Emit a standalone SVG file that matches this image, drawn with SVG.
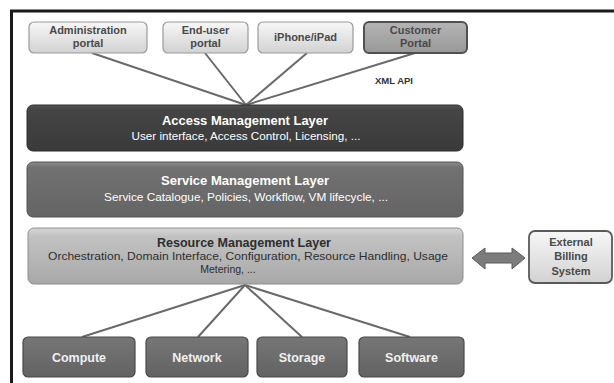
<svg xmlns="http://www.w3.org/2000/svg" width="614" height="383" viewBox="0 0 614 383">
<defs>
<linearGradient id="gLight" x1="0" y1="0" x2="0" y2="1"><stop offset="0" stop-color="#f7f7f7"/><stop offset="1" stop-color="#d2d2d2"/></linearGradient>
<linearGradient id="gCust" x1="0" y1="0" x2="0" y2="1"><stop offset="0" stop-color="#b4b4b4"/><stop offset="1" stop-color="#989898"/></linearGradient>
<linearGradient id="gAccess" x1="0" y1="0" x2="0" y2="1"><stop offset="0" stop-color="#555"/><stop offset="0.1" stop-color="#454545"/><stop offset="1" stop-color="#3a3a3a"/></linearGradient>
<linearGradient id="gService" x1="0" y1="0" x2="0" y2="1"><stop offset="0" stop-color="#8a8a8a"/><stop offset="0.1" stop-color="#727272"/><stop offset="1" stop-color="#646464"/></linearGradient>
<linearGradient id="gRes" x1="0" y1="0" x2="0" y2="1"><stop offset="0" stop-color="#d6d6d6"/><stop offset="0.15" stop-color="#c2c2c2"/><stop offset="1" stop-color="#a8a8a8"/></linearGradient>
<linearGradient id="gBot" x1="0" y1="0" x2="0" y2="1"><stop offset="0" stop-color="#767676"/><stop offset="1" stop-color="#626262"/></linearGradient>
</defs>
<style>
text{font-family:"Liberation Sans",Arial,sans-serif;text-anchor:middle}
.top{fill:url(#gLight);stroke:#9a9a9a;stroke-width:1.2}
.tt{font-size:11px;font-weight:bold;fill:#4a4a4a}
.conn line{stroke:#6a6a6a;stroke-width:2}
.layer-t{font-size:12.5px;font-weight:bold}
.layer-s{font-size:10.5px}
.bot{fill:url(#gBot);stroke:#4a4a4a;stroke-width:1.2}
.bt{font-size:12.5px;font-weight:bold;fill:#f0f0f0}
</style>
<rect x="0" y="0" width="614" height="383" fill="#ffffff"/>
<!-- frame -->
<path d="M11.5 383 V11 H614" fill="none" stroke="#1a1a1a" stroke-width="3"/>

<g id="connectors" class="conn">
<line x1="92" y1="53" x2="246" y2="105"/>
<line x1="205" y1="53" x2="246" y2="105"/>
<line x1="307" y1="53" x2="246" y2="105"/>
<line x1="415" y1="53" x2="246" y2="105"/>
<line x1="245" y1="285" x2="82" y2="337"/>
<line x1="245" y1="285" x2="198" y2="337"/>
<line x1="245" y1="285" x2="302" y2="337"/>
<line x1="245" y1="285" x2="410" y2="337"/>
<path d="M472 258 L485 248 L485 253 L512 253 L512 248 L525 258 L512 269 L512 263 L485 263 L485 269 Z" fill="#7c7c7c" stroke="#5a5a5a" stroke-width="1"/>
</g>

<g id="admin-portal">
<rect class="top" x="29" y="22" width="118" height="31" rx="5"/>
<text class="tt" x="88" y="34">Administration</text>
<text class="tt" x="88" y="47">portal</text>
</g>
<g id="enduser-portal">
<rect class="top" x="163" y="22" width="85" height="31" rx="5"/>
<text class="tt" x="205.5" y="34">End-user</text>
<text class="tt" x="205.5" y="47">portal</text>
</g>
<g id="iphone-ipad">
<rect class="top" x="258" y="22" width="95" height="31" rx="5"/>
<text class="tt" x="305.5" y="41">iPhone/iPad</text>
</g>
<g id="customer-portal">
<rect x="364" y="22" width="103" height="31" rx="5" fill="url(#gCust)" stroke="#505050" stroke-width="2"/>
<text class="tt" x="415.5" y="34" fill="#3c3c3c">Customer</text>
<text class="tt" x="415.5" y="47" fill="#3c3c3c">Portal</text>
</g>
<text x="394" y="84" font-size="9.5" font-weight="bold" fill="#333">XML API</text>

<g id="access-layer">
<rect x="27" y="105" width="436" height="46" rx="6" fill="url(#gAccess)" stroke="#2e2e2e" stroke-width="1"/>
<text class="layer-t" x="245" y="125" fill="#ffffff" textLength="166" lengthAdjust="spacingAndGlyphs">Access Management  Layer</text>
<text class="layer-s" x="246" y="140" fill="#ffffff" textLength="229" lengthAdjust="spacingAndGlyphs">User interface, Access Control, Licensing, ...</text>
</g>

<g id="service-layer">
<rect x="27" y="162" width="436" height="55" rx="6" fill="url(#gService)" stroke="#555" stroke-width="1"/>
<text class="layer-t" x="245" y="185" fill="#ffffff" textLength="168" lengthAdjust="spacingAndGlyphs">Service Management  Layer</text>
<text class="layer-s" x="246" y="201" fill="#ffffff" textLength="284" lengthAdjust="spacingAndGlyphs">Service Catalogue, Policies, Workflow, VM lifecycle, ...</text>
</g>

<g id="resource-layer">
<rect x="28" y="228" width="435" height="56" rx="6" fill="url(#gRes)" stroke="#8e8e8e" stroke-width="1"/>
<text class="layer-t" x="244" y="247" fill="#2e2e2e" textLength="174" lengthAdjust="spacingAndGlyphs">Resource Management  Layer</text>
<text class="layer-s" x="248" y="260" fill="#2e2e2e" textLength="400" lengthAdjust="spacingAndGlyphs">Orchestration, Domain Interface, Configuration, Resource Handling, Usage</text>
<text class="layer-s" x="228" y="273" fill="#2e2e2e">Metering, ...</text>
</g>

<g id="external-billing">
<rect x="529" y="231" width="83" height="52" rx="6" fill="url(#gLight)" stroke="#5a5a5a" stroke-width="1.8"/>
<text class="tt" x="571" y="246" fill="#3a3a3a">External</text>
<text class="tt" x="571" y="260" fill="#3a3a3a">Billing</text>
<text class="tt" x="571" y="275" fill="#3a3a3a">System</text>
</g>

<g id="compute">
<rect class="bot" x="23" y="337" width="112" height="40" rx="5"/>
<text class="bt" x="79" y="362">Compute</text>
</g>
<g id="network">
<rect class="bot" x="146" y="337" width="102" height="40" rx="5"/>
<text class="bt" x="197" y="362">Network</text>
</g>
<g id="storage">
<rect class="bot" x="257" y="337" width="90" height="40" rx="5"/>
<text class="bt" x="302" y="362">Storage</text>
</g>
<g id="software">
<rect class="bot" x="359" y="337" width="105" height="40" rx="5"/>
<text class="bt" x="411.5" y="362">Software</text>
</g>
</svg>
